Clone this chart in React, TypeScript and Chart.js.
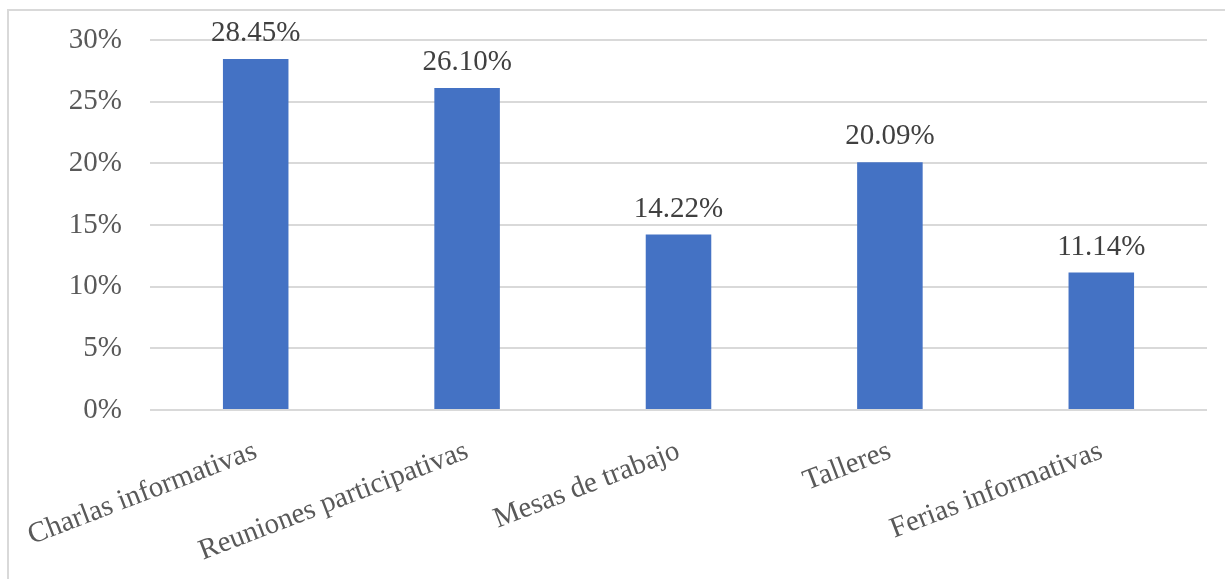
import React, { useEffect, useRef } from "react";
import { Chart, registerables } from "chart.js";

Chart.register(...registerables);

const categories = [
  "Charlas informativas",
  "Reuniones participativas",
  "Mesas de trabajo",
  "Talleres",
  "Ferias informativas",
];
const values = [28.45, 26.1, 14.22, 20.09, 11.14];
const yTicks = [0, 5, 10, 15, 20, 25, 30];

const FONT = "'Liberation Serif', 'Times New Roman', serif";

const labelPlugin = {
  id: "valueLabels",
  afterDatasetsDraw(chart: any) {
    const ctx = chart.ctx;
    const meta = chart.getDatasetMeta(0);
    ctx.save();
    ctx.font = `29px ${FONT}`;
    ctx.fillStyle = "#404040";
    ctx.textAlign = "center";
    ctx.textBaseline = "alphabetic";
    meta.data.forEach((bar: any, i: number) => {
      ctx.fillText(values[i].toFixed(2) + "%", bar.x, bar.y - 18);
    });
    ctx.restore();
  },
};

export default function App() {
  const ref = useRef<HTMLCanvasElement>(null);
  useEffect(() => {
    if (!ref.current) return;
    const chart = new Chart(ref.current, {
      type: "bar",
      data: {
        labels: categories,
        datasets: [
          {
            data: values,
            backgroundColor: "#4472C4",
            borderWidth: 0,
            categoryPercentage: 1,
            barPercentage: 0.31,
          },
        ],
      },
      options: {
        responsive: false,
        animation: false,
        layout: { padding: { top: 40, right: 18, left: 0, bottom: 0 } },
        plugins: {
          legend: { display: false },
          tooltip: { enabled: false },
        },
        scales: {
          y: {
            min: 0,
            max: 30,
            afterBuildTicks: (s: any) => {
              s.ticks = yTicks.map((v) => ({ value: v }));
            },
            afterFit: (s: any) => {
              s.width = 150;
              s.paddingTop = 0;
              s.paddingBottom = 0;
            },
            border: { display: false },
            grid: { color: "#d9d9d9", lineWidth: 2, drawTicks: false },
            ticks: {
              padding: 28,
              color: "#595959",
              font: { family: FONT, size: 29 },
              callback: (v: any) => v + "%",
            },
          },
          x: {
            afterFit: (s: any) => {
              s.height = 169;
              s.paddingLeft = 0;
              s.paddingRight = 0;
            },
            border: { display: false },
            grid: { display: false, drawTicks: false },
            ticks: {
              padding: 24,
              minRotation: 21,
              maxRotation: 21,
              autoSkip: false,
              color: "#595959",
              font: { family: FONT, size: 29 },
            },
          },
        },
      },
      plugins: [labelPlugin],
    });
    return () => chart.destroy();
  }, []);
  return (
    <div style={{ position: "fixed", left: 0, top: 0, width: 1225, height: 579, background: "#fff", overflow: "hidden" }}>
      <div
        style={{
          position: "absolute",
          left: 7,
          top: 9,
          width: 1240,
          height: 600,
          border: "2px solid #d9d9d9",
          boxSizing: "border-box",
        }}
      />
      <canvas ref={ref} width={1225} height={579} style={{ position: "absolute", left: 0, top: 0 }} />
    </div>
  );
}
